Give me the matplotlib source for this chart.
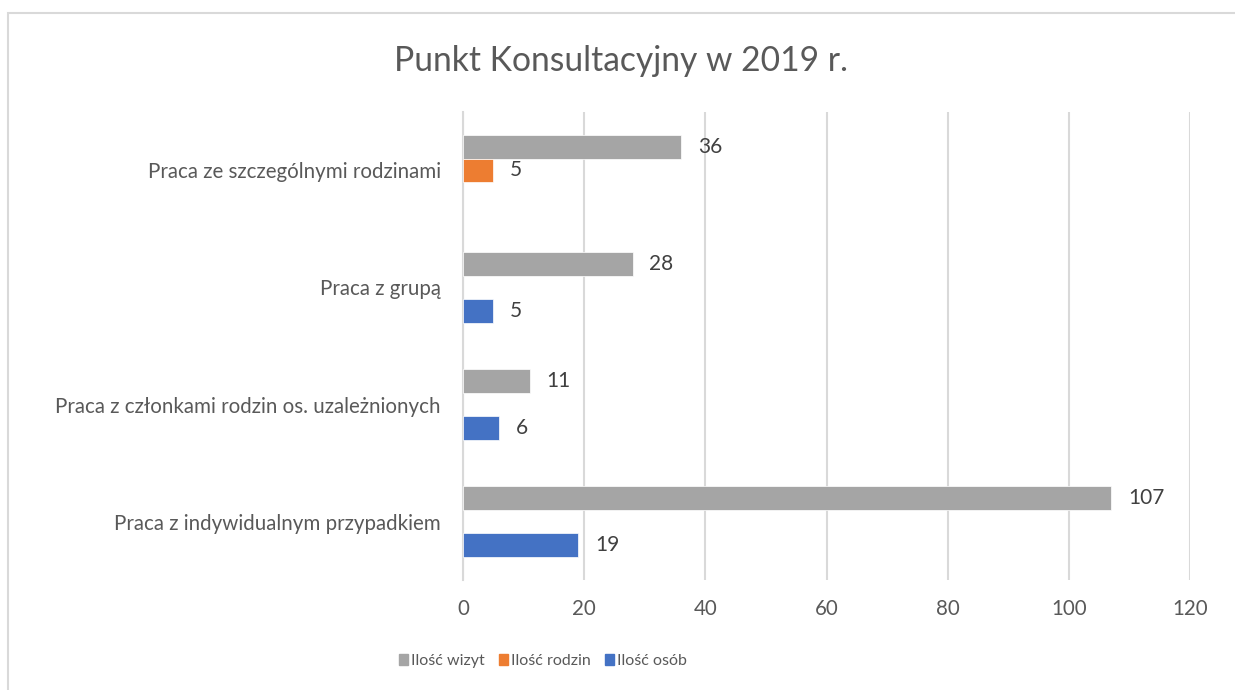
import numpy as np
import matplotlib
matplotlib.use("Agg")
import matplotlib.pyplot as plt
from matplotlib.patches import Rectangle, Patch

plt.rcParams['font.family'] = ['Lato', 'DejaVu Sans']

# data (bottom category first)
categories = [
    "Praca z indywidualnym przypadkiem",
    "Praca z członkami rodzin os. uzależnionych",
    "Praca z grupą",
    "Praca ze szczególnymi rodzinami",
]
wizyty = [107, 11, 28, 36]
rodziny = [np.nan, np.nan, np.nan, 5]
osoby = [19, 6, 5, np.nan]
x_ticks = [0, 20, 40, 60, 80, 100, 120]
legend_labels = ["Ilość wizyt", "Ilość rodzin", "Ilość osób"]

c_wiz = "#A5A5A5"
c_rod = "#ED7D31"
c_oso = "#4472C4"
txt = "#595959"
grid = "#D9D9D9"

fig = plt.figure(figsize=(12.35, 6.9), dpi=100)
ax = fig.add_axes([0.3749, 0.1594, 0.9636 - 0.3749, 0.8377 - 0.1594])

# chart border
fig.patches.append(Rectangle((8 / 1235, -0.2), 1.2, 1.2 - 13 / 690, transform=fig.transFigure,
                             fill=False, edgecolor=grid, linewidth=1.5))

y = np.arange(len(categories))
h = 0.203
series = [(wizyty, c_wiz, h), (rodziny, c_rod, 0), (osoby, c_oso, -h)]
for vals, col, off in series:
    ax.barh(y + off, vals, height=h, color=col, edgecolor="white", linewidth=0.5, zorder=3)
    for yy, v in zip(y + off, vals):
        if not np.isnan(v):
            ax.annotate(f"{v:g}", (v, yy), xytext=(12, 0), textcoords="offset points",
                        ha="left", va="center", fontsize=15, color="#404040")

ax.set_xlim(0, 120)
ax.set_ylim(-0.5, 3.5)
ax.set_xticks(x_ticks)
ax.set_yticks(y)
ax.set_yticklabels(categories)
ax.tick_params(axis="both", length=0, labelsize=14.8, labelcolor=txt)
ax.tick_params(axis="y", pad=16)
ax.tick_params(axis="x", pad=14)
ax.grid(axis="x", color=grid, linewidth=1.5, zorder=0)
for s in ["top", "right", "bottom"]:
    ax.spines[s].set_visible(False)
ax.spines["left"].set_color(grid)
ax.spines["left"].set_linewidth(1.5)

fig.text(621 / 1235, 1 - 61 / 690, "Punkt Konsultacyjny w 2019 r.", ha="center", va="center",
         fontsize=24.2, color=txt)

handles = [Patch(color=c_wiz), Patch(color=c_rod), Patch(color=c_oso)]
fig.legend(handles, legend_labels, loc="center",
           bbox_to_anchor=(543 / 1235, 1 - 661 / 690), ncol=3, frameon=False,
           fontsize=11.5, labelcolor=txt, handlelength=0.55, handleheight=0.75,
           handletextpad=0.2, columnspacing=0.9)

fig.savefig("out.png", dpi=100, facecolor="white")
